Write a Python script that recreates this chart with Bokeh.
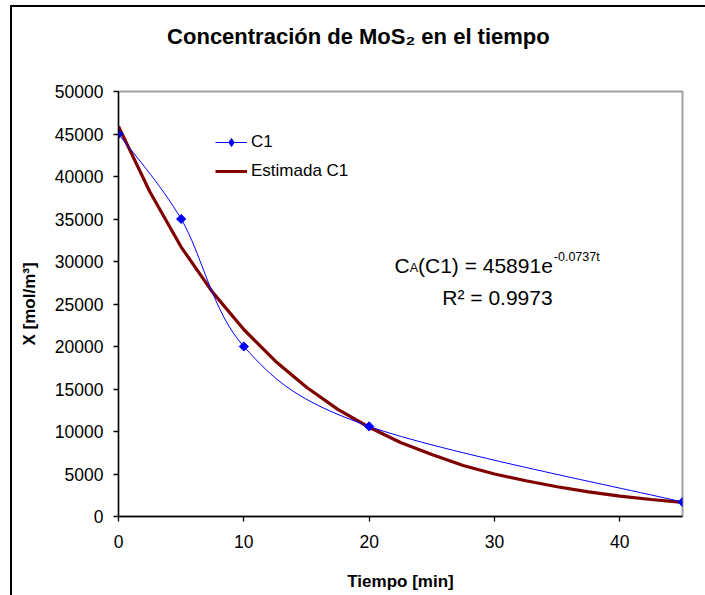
import numpy as np
from bokeh.plotting import figure
from bokeh.models import (Label, Legend, LegendItem, ColumnDataSource, FixedTicker, Title)
from bokeh.embed import file_html
from bokeh.resources import INLINE

# ---------------- data ----------------
t_min = [0, 5, 10, 20, 45]
c1 = [45000, 35000, 20000, 10600, 1700]

# fitted curve values (dark red line)
t_est = [0, 2.5, 5, 7.5, 10, 12.5, 15, 17.5, 20, 22.5, 25, 27.5, 30, 32.5, 35, 37.5, 40, 42.5, 45]
estimada_c1 = [45900, 38200, 31700, 26400, 22000, 18300, 15200, 12600, 10500, 8700,
               7300, 6000, 5000, 4200, 3500, 2900, 2400, 2000, 1660]

x_ticks = [0, 10, 20, 30, 40]
y_ticks = [0, 5000, 10000, 15000, 20000, 25000, 30000, 35000, 40000, 45000, 50000]

title_text = "Concentración de MoS₂ en el tiempo"
x_title = "Tiempo [min]"
y_title = "X [mol/m³]"
r2_text = "R² = 0.9973"

FONT = "Liberation Sans"
OX, OY = 12, 7          # figure element offset inside the page (margin + border)

# Excel-like smoothed line: Catmull-Rom spline expressed as cubic Bezier segments
def smooth_segments(xs, ys):
    n = len(xs)
    P = [(float(a), float(b)) for a, b in zip(xs, ys)]
    d = {k: [] for k in ("x0", "y0", "x1", "y1", "cx0", "cy0", "cx1", "cy1")}
    for i in range(n - 1):
        pm = P[max(i - 1, 0)]
        p0 = P[i]
        p1 = P[i + 1]
        p2 = P[min(i + 2, n - 1)]
        d["x0"].append(p0[0]); d["y0"].append(p0[1])
        d["x1"].append(p1[0]); d["y1"].append(p1[1])
        d["cx0"].append(p0[0] + (p1[0] - pm[0]) / 6.0)
        d["cy0"].append(p0[1] + (p1[1] - pm[1]) / 6.0)
        d["cx1"].append(p1[0] - (p2[0] - p0[0]) / 6.0)
        d["cy1"].append(p1[1] - (p2[1] - p0[1]) / 6.0)
    return ColumnDataSource(d)

p = figure(frame_width=564, frame_height=425,
           min_border_left=118 - OX, min_border_right=23,
           min_border_top=91 - OY, min_border_bottom=79,
           x_range=(0, 45), y_range=(0, 50000),
           output_backend="svg", toolbar_location=None, title=None)

p.styles = {"margin-left": "10px", "margin-top": "5px",
            "border-left": "2px solid black", "border-top": "2px solid black"}

p.background_fill_color = "white"
p.border_fill_color = "white"
p.xgrid.visible = False
p.ygrid.visible = False
p.outline_line_color = "#a0a0a0"
p.outline_line_width = 2

# title (a thin spacer title sits between the real title and the plot area)
BW = {' ': 278, 'C': 722, 'o': 611, 'n': 611, 'c': 556, 'e': 556, 't': 333, 'r': 389,
      'a': 556, 'i': 278, 'ó': 611, 'd': 611, 'M': 833, 'S': 667, '₂': 360, 'l': 278,
      'm': 889, 'p': 611}
TITLE_SIZE = 22
title_w = sum(BW.get(ch, 556) for ch in title_text) * TITLE_SIZE / 1000.0
p.add_layout(Title(text=" ", text_font_size="1px", standoff=40), "above")
p.add_layout(Title(text=title_text, align="left", offset=357 - title_w / 2 - 118,
                   text_font=FONT, text_font_size=f"{TITLE_SIZE}px", text_font_style="bold",
                   text_color="black", standoff=0), "above")

for ax in (p.xaxis[0], p.yaxis[0]):
    ax.axis_line_color = "black"
    ax.axis_line_width = 1.3
    ax.major_tick_line_color = "black"
    ax.major_tick_line_width = 1.3
    ax.major_tick_out = 5
    ax.major_tick_in = 0
    ax.minor_tick_line_color = None
    ax.major_label_text_font = FONT
    ax.major_label_text_font_size = "17.5px"
    ax.major_label_text_color = "black"
    ax.axis_label_text_font = FONT
    ax.axis_label_text_font_size = "17px"
    ax.axis_label_text_font_style = "bold"
    ax.axis_label_text_color = "black"

p.xaxis[0].ticker = FixedTicker(ticks=x_ticks)
p.yaxis[0].ticker = FixedTicker(ticks=y_ticks)
p.xaxis[0].axis_label = x_title
p.yaxis[0].axis_label = y_title
p.xaxis[0].major_label_standoff = 13
p.yaxis[0].major_label_standoff = 10
p.xaxis[0].axis_label_standoff = 21
p.yaxis[0].axis_label_standoff = 13

# fitted curve (dark red, thick)
est_r = p.line(t_est, estimada_c1, line_color="#800000", line_width=3.2)

# measured series (blue thin smoothed line with diamonds)
c1_src = smooth_segments(t_min, c1)
p.bezier(x0="x0", y0="y0", x1="x1", y1="y1", cx0="cx0", cy0="cy0", cx1="cx1", cy1="cy1",
         source=c1_src, line_color="#0000ff", line_width=1)
p.scatter(t_min, c1, marker="square", angle=np.pi / 4, size=6.5,
          fill_color="#0000ff", line_color="#0000ff")

# legend proxies (NaN data -> nothing drawn in the plot)
nan = np.array([np.nan])
lg_c1_line = p.line(nan, nan, line_color="#0000ff", line_width=1)
lg_c1_mark = p.scatter(nan, nan, marker="diamond", size=10,
                       fill_color="#0000ff", line_color="#0000ff")

legend = Legend(items=[LegendItem(label="C1", renderers=[lg_c1_line, lg_c1_mark]),
                       LegendItem(label="Estimada C1", renderers=[est_r])],
                location=(97, 335), orientation="vertical",
                label_text_font=FONT, label_text_font_size="17px", label_text_color="black",
                glyph_width=32, glyph_height=20, label_standoff=4, spacing=9,
                padding=0, margin=0, border_line_color=None, background_fill_alpha=0)
p.add_layout(legend, "center")

# equation  C_A(C1) = 45891e^(-0.0737t)
MAIN = 21
SMALL = 12.5
W = {' ': 278, '(': 333, ')': 333, '=': 584, 'C': 722, 'A': 667, 'e': 556, '-': 333,
     '.': 278, 't': 278, 'R': 722}
def tw(s, size):
    return sum(W.get(ch, 556) for ch in s) * size / 1000.0

eq_parts = [("C", MAIN, 0), ("A", SMALL, 2), ("(C1) = 45891e", MAIN, 0), ("-0.0737t", SMALL, -9)]
x_cur = 392
base_y = 263
for txt, size, dy in eq_parts:
    p.add_layout(Label(x=x_cur - OX, y=base_y + dy - OY, x_units="canvas", y_units="canvas",
                       text=txt, text_font=FONT, text_font_size=f"{size}px",
                       text_align="left", text_baseline="alphabetic", text_color="black"))
    x_cur += tw(txt, size) + (1 if txt.endswith("e") else 0)

p.add_layout(Label(x=495 - OX, y=295 - OY, x_units="canvas", y_units="canvas", text=r2_text,
                   text_font=FONT, text_font_size=f"{MAIN}px", text_align="center",
                   text_baseline="alphabetic", text_color="black"))

open("out.html", "w").write(file_html(p, INLINE))
